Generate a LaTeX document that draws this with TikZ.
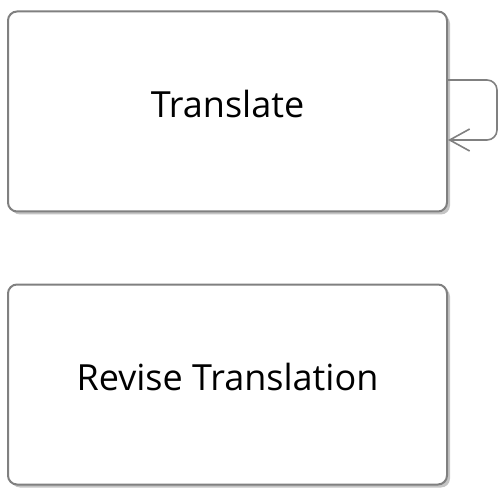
\documentclass[tikz,border=0pt]{standalone}
\usepackage{fontspec}
\setmainfont{Open Sans}
\usetikzlibrary{positioning,shadows,arrows.meta}
\tikzset{>={Straight Barb[length=20pt,width=22pt]}}
\definecolor{boxline}{HTML}{808080}
\definecolor{boxshade}{HTML}{C4C4C4}

\begin{document}
\begin{tikzpicture}[x=1pt,y=-1pt,
	step box/.style={draw=boxline, line width=2pt, rounded corners=9pt, fill=white,
		minimum width=439pt, minimum height=200pt, inner sep=0pt,
		text height=27pt, text depth=15pt,
		font=\fontsize{36}{40}\selectfont,
		drop shadow={shadow xshift=3pt, shadow yshift=-3pt, fill=boxshade, opacity=1}},
	self loop/.style={->, draw=boxline, line width=1.6pt, rounded corners=10pt},
	node distance=71pt]
	\useasboundingbox (0,0) rectangle (499,495);
		\node[step box] (tr) at (227.5,111.5) {Translate};
		\node[step box] (rev) [below= of tr] {Revise Translation};
		\draw[self loop] ([yshift=31.5pt]tr.east) -| ([xshift=49pt,yshift=-28.5pt]tr.east) -- ([yshift=-28.5pt]tr.east);
	\end{tikzpicture}
\end{document}
